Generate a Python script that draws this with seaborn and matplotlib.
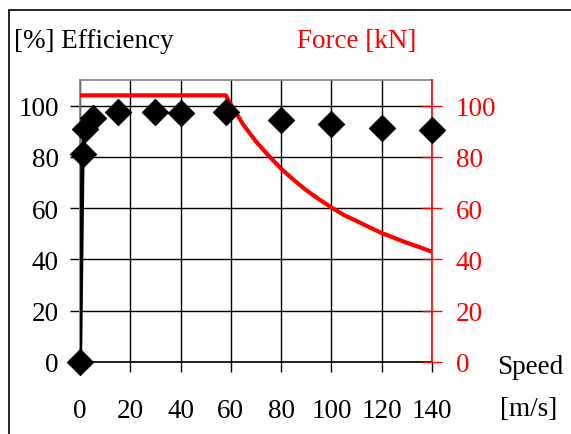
import matplotlib
matplotlib.use("Agg")
import matplotlib.pyplot as plt
import seaborn as sns
import pandas as pd
from matplotlib.lines import Line2D

sns.set_theme(style="white")
plt.rcParams['font.family'] = ['Liberation Serif', 'DejaVu Serif']

# Efficiency data (speed m/s, efficiency %)
eff_speed = [0, 1, 2, 5, 15, 30, 40, 58, 80, 100, 120, 140]
eff_value = [0, 81, 91, 95, 97.5, 97.5, 97, 97.5, 94.3, 93, 91.4, 90.6]
# Portion drawn as a connected line
eff_line_speed = [0, 0.5, 1, 2, 5]
eff_line_value = [0, 40, 81, 91, 95]

# Force data (speed m/s, force kN)
force_speed = [0, 10, 20, 30, 40, 50, 58, 60, 65, 70, 75, 80, 85, 90, 95, 100, 105, 110, 115, 120, 125, 130, 135, 140]
force_value = [104, 104, 104, 104, 104, 104, 104, 100.5, 92.5, 86, 80.5, 75.4, 71, 67, 63.5, 60.3, 57.3, 55, 52.6, 50.3, 48.4, 46.5, 44.8, 43]

x_ticks = [0, 20, 40, 60, 80, 100, 120, 140]
y_ticks = [0, 20, 40, 60, 80, 100]

W, H = 571, 435
fig = plt.figure(figsize=(W / 100, H / 100), dpi=100)
ax = fig.add_axes([80 / W, 1 - 363 / H, (432 - 80) / W, (363 - 81) / H])
ax2 = ax.twinx()

fs = 19.5

# grid
ax.set_xlim(0, 140)
ax.set_ylim(0, 110)
ax2.set_ylim(0, 110)
ax.set_xticks(x_ticks)
ax.set_yticks(y_ticks)
ax2.set_yticks(y_ticks)
ax.grid(True, color='black', linewidth=1.0)
ax.set_axisbelow(True)

df_force = pd.DataFrame({'speed': force_speed, 'force': force_value})
df_line = pd.DataFrame({'speed': eff_line_speed, 'eff': eff_line_value})
df_eff = pd.DataFrame({'speed': eff_speed, 'eff': eff_value})

sns.lineplot(data=df_force, x='speed', y='force', ax=ax2, color='#ff0000', linewidth=3.0, sort=False)
sns.lineplot(data=df_line, x='speed', y='eff', ax=ax2, color='black', linewidth=3.0, sort=False)
sns.scatterplot(data=df_eff, x='speed', y='eff', ax=ax2, marker='D', s=185, color='black',
                edgecolor='black', linewidth=0.5, zorder=5, clip_on=False)

for a in (ax, ax2):
    a.set_xlabel('')
    a.set_ylabel('')
    for s in a.spines.values():
        s.set_visible(False)

ax.spines['top'].set_visible(True)
ax.spines['top'].set_color('#808080')
ax.spines['top'].set_linewidth(1.2)
ax.spines['bottom'].set_visible(True)
ax.spines['bottom'].set_color('black')
ax.spines['bottom'].set_linewidth(1.2)
ax.spines['left'].set_visible(True)
ax.spines['left'].set_color('#808080')
ax2.spines['right'].set_visible(True)
ax2.spines['right'].set_color('#ff0000')
ax2.spines['right'].set_linewidth(1.2)

ax.tick_params(axis='y', direction='out', length=7.2, width=1, color='black', pad=8,
               labelsize=fs, labelcolor='black', left=True)
ax.tick_params(axis='x', direction='out', length=7.2, width=1, color='black', pad=19,
               labelsize=fs, labelcolor='black', bottom=True)
ax2.tick_params(axis='y', direction='inout', length=14, width=1, color='#ff0000', pad=10,
                labelsize=fs, labelcolor='#ff0000', right=True)

# texts
fig.text(14 / W, 1 - 42 / H, '[%] Efficiency', fontsize=fs, color='black', ha='left', va='center')
fig.text(297 / W, 1 - 42 / H, 'Force [kN]', fontsize=fs, color='#ff0000', ha='left', va='center')
fig.text(497 / W, 1 - 368 / H, 'Speed', fontsize=fs, color='black', ha='left', va='center')
fig.text(500 / W, 1 - 410 / H, '[m/s]', fontsize=fs, color='black', ha='left', va='center')

# outer frame (partially visible)
fig.add_artist(Line2D([9 / W, 9 / W], [0, 1 - 11 / H], color='black', linewidth=1.2, transform=fig.transFigure))
fig.add_artist(Line2D([9 / W, 1], [1 - 11 / H, 1 - 11 / H], color='black', linewidth=1.2, transform=fig.transFigure))

fig.savefig('out.png', dpi=100)
